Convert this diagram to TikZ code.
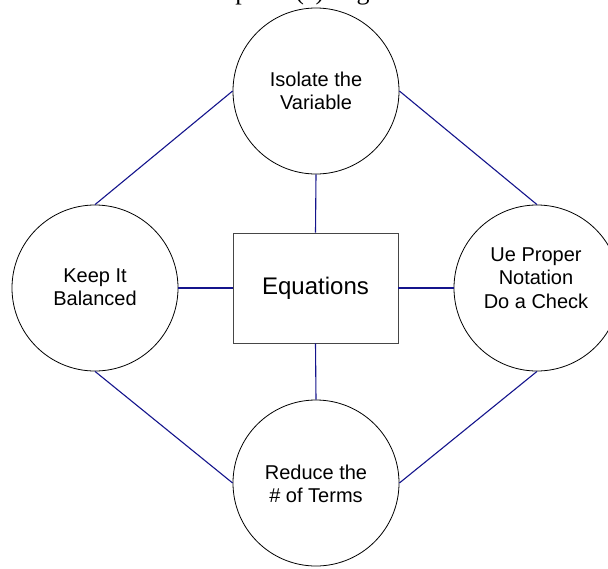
\documentclass[tikz,border=0pt]{standalone}
\usepackage{fontspec}
\setmainfont{Liberation Sans}
\newfontfamily\titlefont{Liberation Serif}
\definecolor{linkblue}{RGB}{20,20,140}
\definecolor{boxgray}{RGB}{70,70,70}
\begin{document}
\begin{tikzpicture}[x=1pt,y=-1pt,
  topic/.style={circle,draw=black,line width=0.8pt,minimum size=166pt,inner sep=0pt,fill=white},
  topictext/.style={align=center,inner sep=0pt,font=\fontsize{20}{23.5}\selectfont},
  centerbox/.style={rectangle,draw=boxgray,line width=0.9pt,minimum width=165pt,minimum height=110pt,inner sep=0pt,font=\fontsize{24}{28}\selectfont},
  link/.style={draw=linkblue,line width=1.1pt}]
\useasboundingbox (0,0) rectangle (608,568);
\clip (0,0) rectangle (608,568);
\node[anchor=base,inner sep=0pt,font=\titlefont\fontsize{26}{30}\selectfont] (title) at (304,-0.6) {Chapter 3(a) Algebra};
\node[topic] (top) at (316,91) {};
\node[topictext] (toptext) at (316,91) {Isolate the\\Variable};
\node[topic] (left) at (95,288) {};
\node[topictext] (lefttext) at (95,287) {Keep It\\Balanced};
\node[topic] (right) at (537,288) {};
\node[topictext] (righttext) at (536,278) {Ue Proper\\Notation\\Do a Check};
\node[topic] (bot) at (316,483) {};
\node[topictext] (bottext) at (316,484) {Reduce the\\\# of Terms};
\node[centerbox] (eq) at (315.5,288) {Equations};
\draw[link] (top.south) -- (eq.north);
\draw[link] (eq.south) -- (bot.north);
\draw[link] (eq.west) -- (left.east);
\draw[link] (eq.east) -- (right.west);
\draw[link] (top.west) -- (left.north);
\draw[link] (top.east) -- (right.north);
\draw[link] (left.south) -- (bot.west);
\draw[link] (right.south) -- (bot.east);
\end{tikzpicture}
\end{document}
